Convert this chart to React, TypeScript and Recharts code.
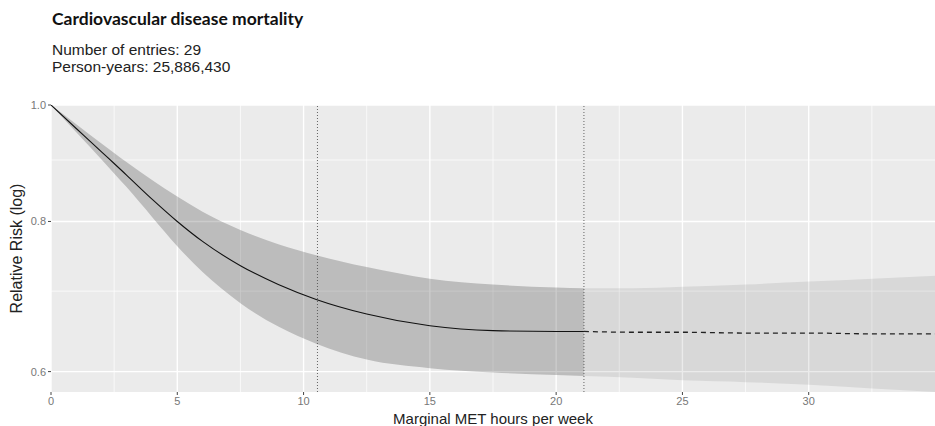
import React from "react";
import {
    ComposedChart,
    Area,
    Line,
    XAxis,
    YAxis,
    CartesianGrid,
    ReferenceLine
} from "recharts";

// values
const metHours = [0, 1, 2, 2.5, 3, 4, 5, 6, 7.5, 9, 10.5, 12.5, 15, 17.5, 20, 21.1, 23, 25, 27.5, 30, 32.5, 35];
const relativeRisk = [1, 0.956, 0.914, 0.894, 0.874, 0.835, 0.8, 0.77, 0.735, 0.709, 0.689, 0.67, 0.655, 0.649, 0.648, 0.648, 0.647, 0.647, 0.646, 0.646, 0.645, 0.645];
const upperCI = [1, 0.964, 0.929, 0.912, 0.896, 0.866, 0.839, 0.815, 0.787, 0.766, 0.75, 0.733, 0.717, 0.709, 0.705, 0.704, 0.704, 0.706, 0.709, 0.713, 0.717, 0.721];
const lowerCI = [1, 0.949, 0.901, 0.877, 0.854, 0.807, 0.763, 0.726, 0.684, 0.654, 0.633, 0.614, 0.604, 0.599, 0.596, 0.595, 0.593, 0.59, 0.588, 0.585, 0.581, 0.577];

const fitCutoff = 21.1; // 90th percentile of exposure
const medianExposure = 10.55;

const xTicks = [0, 5, 10, 15, 20, 25, 30];
const xMinor = [2.5, 7.5, 12.5, 17.5, 22.5, 27.5, 32.5];
const yTicks = [0.6, 0.8, 1.0];
const yMinor = [0.7, 0.9];

export default function App() {
    const data = metHours.map((x, i) => ({
        x,
        fitBand: x <= fitCutoff ? [lowerCI[i], upperCI[i]] : null,
        fitLine: x <= fitCutoff ? relativeRisk[i] : null,
        extBand: x >= fitCutoff ? [lowerCI[i], upperCI[i]] : null,
        extLine: x >= fitCutoff ? relativeRisk[i] : null
    }));

    const sans = "'Liberation Sans', Arial, sans-serif";

    return (
        <div style={{ position: "absolute", left: 0, top: 0, width: 935, height: 426, background: "#fff" }}>
            <div style={{ position: "absolute", left: 52, top: 9, fontFamily: "Lato, sans-serif", fontWeight: 700, fontSize: 17.5, lineHeight: "20px", color: "#111" }}>
                Cardiovascular disease mortality
            </div>
            <div style={{ position: "absolute", left: 52, top: 41, fontFamily: sans, fontSize: 15.5, lineHeight: "17px", color: "#222" }}>
                Number of entries: 29
                <br />
                Person-years: 25,886,430
            </div>
            <ComposedChart
                width={935}
                height={426}
                data={data}
                margin={{ top: 105, right: 0, bottom: 0, left: 11 }}
            >
                <CartesianGrid
                    fill="#EBEBEB"
                    stroke="#fff"
                    strokeWidth={1.4}
                    verticalValues={xTicks}
                    horizontalValues={yTicks}
                />
                <CartesianGrid
                    stroke="#fff"
                    strokeWidth={0.7}
                    verticalValues={xMinor}
                    horizontalValues={yMinor}
                />
                <XAxis
                    dataKey="x"
                    type="number"
                    domain={[0, 35]}
                    allowDataOverflow
                    ticks={xTicks}
                    height={34}
                    axisLine={false}
                    tickLine={{ stroke: "#444" }}
                    tickSize={3}
                    tick={{ fontSize: 11, fill: "#777", fontFamily: sans }}
                    label={{
                        value: "Marginal MET hours per week",
                        position: "insideBottom",
                        offset: 2,
                        style: { fontSize: 15, fill: "#222", fontFamily: sans }
                    }}
                />
                <YAxis
                    type="number"
                    scale="log"
                    domain={[0.577, 1]}
                    allowDataOverflow
                    ticks={yTicks}
                    width={40}
                    axisLine={false}
                    tickLine={{ stroke: "#444" }}
                    tickSize={3}
                    tickFormatter={(v: number) => v.toFixed(1)}
                    tick={{ fontSize: 11, fill: "#777", fontFamily: sans }}
                    label={{
                        value: "Relative Risk (log)",
                        angle: -90,
                        position: "insideLeft",
                        offset: 5,
                        style: { textAnchor: "middle", fontSize: 16, fill: "#222", fontFamily: sans }
                    }}
                />
                <Area
                    type="monotone"
                    dataKey="extBand"
                    stroke="none"
                    fill="#000"
                    fillOpacity={0.08}
                    isAnimationActive={false}
                />
                <Area
                    type="monotone"
                    dataKey="fitBand"
                    stroke="none"
                    fill="#000"
                    fillOpacity={0.2}
                    isAnimationActive={false}
                />
                <ReferenceLine x={medianExposure} stroke="#555" strokeWidth={0.9} strokeDasharray="1 2" />
                <ReferenceLine x={fitCutoff} stroke="#555" strokeWidth={0.9} strokeDasharray="1 2" />
                <Line
                    type="monotone"
                    dataKey="fitLine"
                    stroke="#111"
                    strokeWidth={1.1}
                    dot={false}
                    isAnimationActive={false}
                />
                <Line
                    type="monotone"
                    dataKey="extLine"
                    stroke="#222"
                    strokeWidth={1.3}
                    strokeDasharray="5 4"
                    dot={false}
                    isAnimationActive={false}
                />
            </ComposedChart>
        </div>
    );
}
